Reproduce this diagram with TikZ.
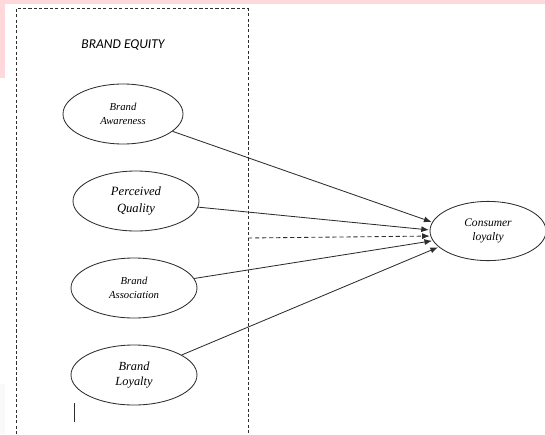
\documentclass[tikz,border=0pt]{standalone}
\usepackage{fontspec}
\setmainfont{Liberation Serif}
\newfontfamily\headfont{Carlito}
\usepackage{xcolor}
\usetikzlibrary{arrows.meta,positioning,shapes.geometric}
\definecolor{bgpink}{RGB}{255,216,220}
\definecolor{linegray}{RGB}{45,45,45}

\begin{document}
\begin{tikzpicture}[
    >=Latex,
    construct/.style={draw=linegray, line width=0.6pt, ellipse, minimum width=3.15cm, minimum height=1.5cm, align=center, inner sep=1pt, font=\itshape\fontsize{8.8}{11}\selectfont},
    smalltext/.style={font=\itshape\fontsize{7.6}{9.5}\selectfont},
    path/.style={->, draw=linegray, line width=0.6pt, shorten >=0.5pt, >={Latex[length=1.9mm,width=1.5mm]}}
]
\useasboundingbox (0,0) rectangle (13.625,-10.85);
% page background
\fill[bgpink] (0,0) rectangle (13.625,-1.95);
\fill[white] (0.13,-0.1) rectangle (13.625,-1.95);
\fill[gray!5] (0,-9.6) rectangle (0.13,-10.85);

% brand equity frame
\draw[linegray, line width=0.6pt, dash pattern=on 2.2pt off 1.6pt] (0.4,-10.85) -- (0.4,-0.21) -- (6.2,-0.21) -- (6.2,-10.85);
\node[font=\headfont\itshape\fontsize{9.6}{11}\selectfont] (title) at (3.075,-1.125) {BRAND EQUITY};

\node[construct, smalltext, minimum width=3cm] (aware) at (3.075,-2.85) {Brand\\Awareness};
\node[construct, font=\itshape\fontsize{9}{12}\selectfont] (qual) at (3.4,-5.025) {Perceived\\Quality};
\node[construct, smalltext] (assoc) at (3.35,-7.2) {Brand\\Association};
\node[construct] (loyal) at (3.35,-9.375) {Brand\\Loyalty};
\node[construct, minimum width=2.9cm, minimum height=1.48cm, font=\itshape\fontsize{8.2}{10.2}\selectfont] (cons) at (12.2,-5.775) {Consumer\\loyalty};
\coordinate (eq) at (6.2,-5.95);

\draw[path] (aware) -- (cons.171);
\draw[path] (qual) -- (cons.179);
\draw[path, dash pattern=on 3pt off 2pt] (eq) -- (cons.185);
\draw[path] (assoc) -- (cons.190);
\draw[path] (loyal) -- (cons.198);

% stray mark
\draw[linegray, line width=0.6pt] (1.85,-10.075) -- (1.85,-10.55);
\end{tikzpicture}
\end{document}
